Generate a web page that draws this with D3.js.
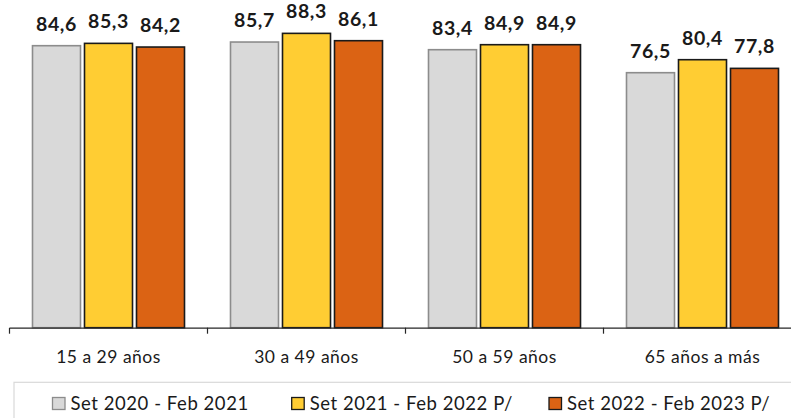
<!DOCTYPE html>
<html><head><meta charset="utf-8">
<script src="https://cdn.jsdelivr.net/npm/d3@7/dist/d3.min.js"></script>
<style>body{margin:0;background:#fff;overflow:hidden}svg{display:block}</style>
</head><body><svg id="c" width="791" height="418"></svg>
<script>
const categories = ["15 a 29 años","30 a 49 años","50 a 59 años","65 años a más"];
const seriesNames = ["Set 2020 - Feb 2021","Set 2021 - Feb 2022 P/","Set 2022 - Feb 2023 P/"];
const s2021 = [84.6, 85.7, 83.4, 76.5];
const s2022 = [85.3, 88.3, 84.9, 80.4];
const s2023 = [84.2, 86.1, 84.9, 77.8];
const seriesValues = [s2021, s2022, s2023];
const fills = ["#d9d9d9","#ffcd33","#db6314"];
const strokes = ["#8c8c8c","#1a1a1a","#1a1a1a"];

const svg = d3.select("#c");
const font = "Lato, 'Open Sans', sans-serif";
const baseY = 327.7;
const y = d3.scaleLinear().domain([0, 90]).range([baseY, baseY - 300]);
const x0 = d3.scaleBand().domain(categories).range([9.5, 801.5]).padding(0);
const x1 = d3.scaleBand().domain(d3.range(3)).range([23, 175]).paddingInner(4/52).paddingOuter(0);

const g = svg.append("g");
categories.forEach((c, ci) => {
  seriesValues.forEach((vals, si) => {
    const v = vals[ci];
    const bx = x0(c) + x1(si);
    g.append("rect")
      .attr("x", bx).attr("y", y(v))
      .attr("width", x1.bandwidth()).attr("height", baseY - y(v))
      .attr("fill", fills[si]).attr("stroke", strokes[si]).attr("stroke-width", 1.6);
    g.append("text")
      .attr("x", bx + x1.bandwidth()/2).attr("y", y(v) - 15)
      .attr("text-anchor", "middle")
      .attr("font-family", font).attr("font-weight", "bold").attr("font-size", 19.5)
      .attr("letter-spacing", 0.6)
      .attr("fill", "#1a1a1a")
      .text(d3.format(".1f")(v).replace(".", ","));
  });
});

// x axis
const axis = d3.axisBottom(x0).tickSize(0).tickFormat(d => d);
const ag = svg.append("g").attr("transform", `translate(0,${baseY})`).call(axis);
ag.select(".domain").attr("stroke", "#262626").attr("stroke-width", 1.2);
ag.selectAll("text").attr("font-family", font).attr("font-size", 17.5).attr("letter-spacing", 0.5)
  .attr("fill", "#1a1a1a").attr("dy", 0).attr("y", 35);
// boundary ticks
const bounds = categories.map(c => x0(c)).concat([x0.range()[1]]);
ag.selectAll("line.b").data(bounds).enter().append("line").attr("class","b")
  .attr("x1", d => d).attr("x2", d => d).attr("y1", 0).attr("y2", 6)
  .attr("stroke", "#262626").attr("stroke-width", 1.2);

// legend
const lg = svg.append("g");
lg.append("rect").attr("x", 14).attr("y", 382.3).attr("width", 800).attr("height", 50)
  .attr("fill", "none").attr("stroke", "#d9d9d9").attr("stroke-width", 1.2);
const legendX = [52.5, 291.7, 549];
seriesNames.forEach((n, i) => {
  lg.append("rect").attr("x", legendX[i]).attr("y", 397.5).attr("width", 12.5).attr("height", 12)
    .attr("fill", fills[i]).attr("stroke", strokes[i]).attr("stroke-width", 1.3);
  lg.append("text").attr("x", legendX[i] + 18).attr("y", 410)
    .attr("font-family", font).attr("font-size", 18.5).attr("letter-spacing", 0.55)
    .attr("fill", "#1a1a1a").text(n);
});
</script></body></html>
